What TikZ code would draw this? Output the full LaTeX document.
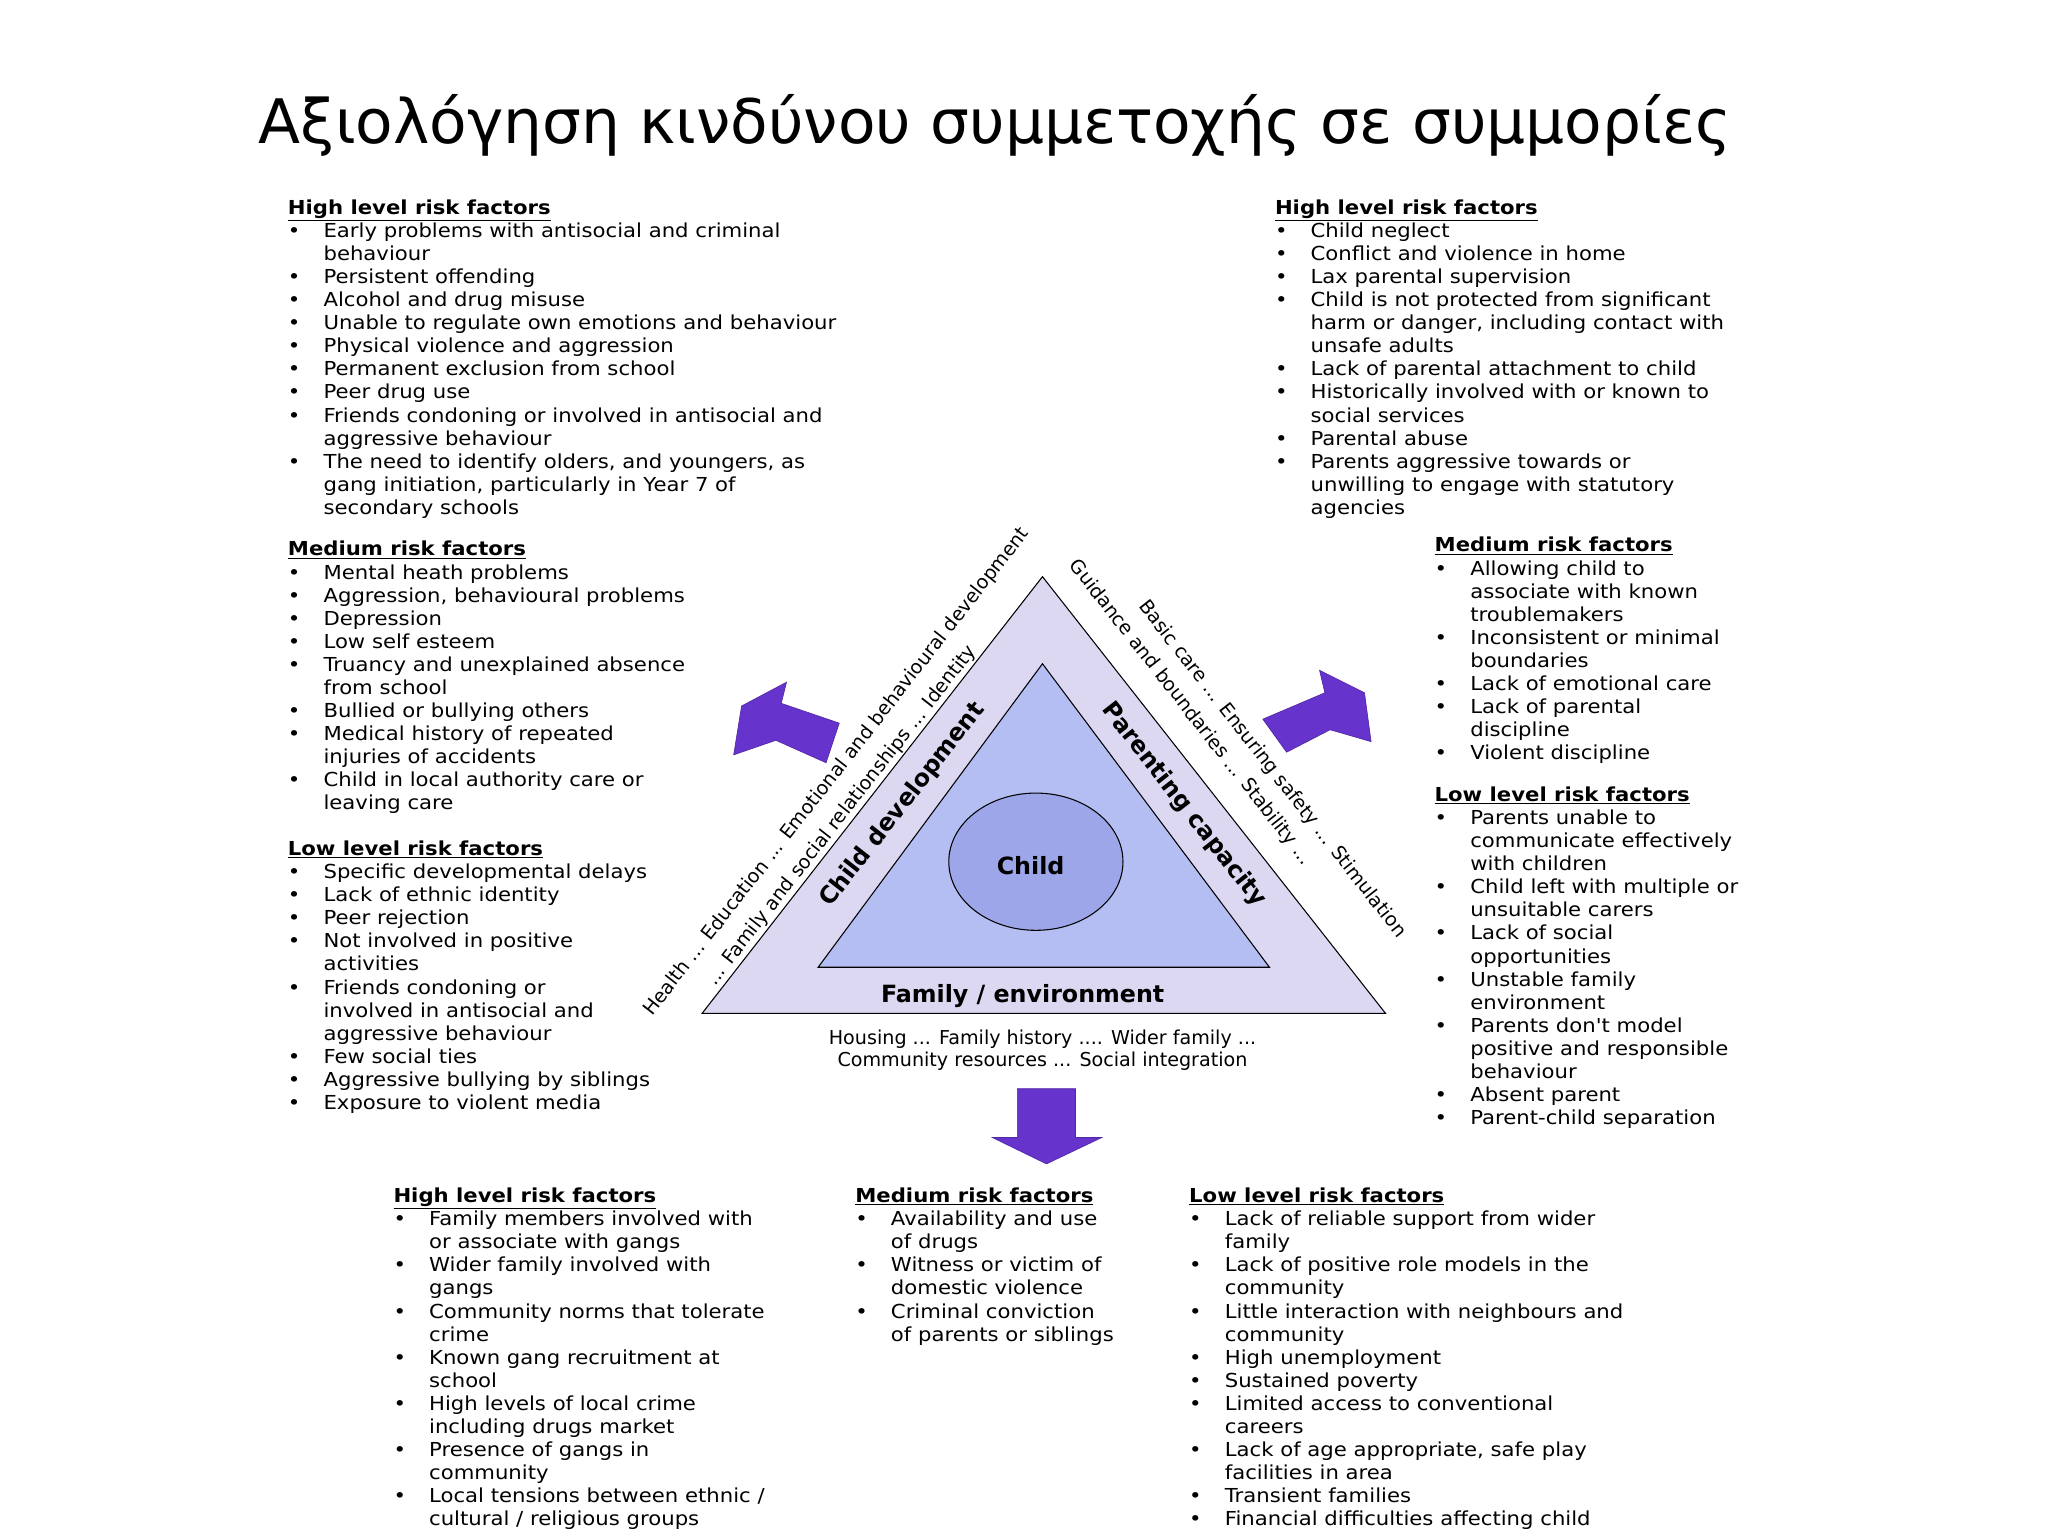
\documentclass[tikz,border=0pt]{standalone}
\usepackage{fontspec}
\setmainfont{DejaVu Sans}
\newfontfamily\listfont[FakeStretch=1.1]{DejaVu Sans}
\usetikzlibrary{calc}
\definecolor{outerc}{HTML}{DDD8F2}
\definecolor{innerc}{HTML}{B4BEF2}
\definecolor{childc}{HTML}{9EA6EA}
\definecolor{arrowc}{HTML}{6633CC}
\newcommand{\bi}{\makebox[27pt][l]{\textbullet}}
\newcommand{\ct}{\hspace*{27pt}}
\newcommand{\hd}[1]{\textbf{\underline{#1}}}
\begin{document}
\begin{tikzpicture}[x=1pt,y=-1pt,
  list/.style={anchor=north west,inner sep=0pt,align=left,font={\listfont\fontsize{14.6}{17.5}\selectfont}},
  side/.style={inner sep=0pt,font={\fontsize{14.5}{17}\selectfont}},
  big/.style={inner sep=0pt,font={\fontsize{18}{20}\selectfont\bfseries}},
  arr/.style={fill=arrowc,draw=arrowc!80!black,line width=0.5pt}]
\useasboundingbox (0,0) rectangle (1552,1164);
\fill[white] (0,0) rectangle (1552,1164);
\node[inner sep=0pt,font=\fontsize{46.5}{52}\selectfont] (title) at (754,95) {Αξιολόγηση κινδύνου συμμετοχής σε συμμορίες};

% triangle
\draw[fill=outerc,line width=0.8pt] (790,437) coordinate (oa) -- (532,768) coordinate (ol) -- (1050,768) coordinate (or) -- cycle;
\draw[fill=innerc,line width=0.8pt] (790,503) coordinate (ia) -- (620,733) coordinate (il) -- (962,733) coordinate (ir) -- cycle;
\draw[fill=childc,line width=0.8pt] (785,653) ellipse [x radius=66,y radius=52];
\node[big] (child) at (781,656) {Child};
\node[big,rotate=52] (cd) at (684,610) {Child development};
\node[big,rotate=-52] (pc) at (897,610) {Parenting capacity};
\node[big] (fe) at (775,755) {Family / environment};
\node[side,rotate=52] (l1) at (634,585) {Health ... Education ... Emotional and behavioural development};
\node[side,rotate=52] (l2) at (638,618) {... Family and social relationships ... Identity};
\node[side,rotate=-52] (r2) at (902,540) {Guidance and boundaries ... Stability ...};
\node[side,rotate=-52] (r1) at (964,583) {Basic care ... Ensuring safety ... Stimulation};
\node[side,align=center] (hous) at (790,796) {Housing ... Family history .... Wider family ...\\Community resources ... Social integration};

% arrows
\draw[arr] (636,548) -- (626,578) -- (588,561) -- (556,572) -- (562,535) -- (596,517) -- (592,533) -- cycle;
\draw[arr] (957,545) -- (975,570) -- (1008,553) -- (1039,562) -- (1034,525) -- (1000,508) -- (1004,525) -- cycle;
\draw[arr] (771,825) -- (815,825) -- (815,862) -- (835,862) -- (793,882) -- (752,862) -- (771,862) -- cycle;

% left column
\node[list] (lh) at (218,151) {\hd{High level risk factors}\\
\bi Early problems with antisocial and criminal\\ \ct behaviour\\
\bi Persistent offending\\
\bi Alcohol and drug misuse\\
\bi Unable to regulate own emotions and behaviour\\
\bi Physical violence and aggression\\
\bi Permanent exclusion from school\\
\bi Peer drug use\\
\bi Friends condoning or involved in antisocial and\\ \ct aggressive behaviour\\
\bi The need to identify olders, and youngers, as\\ \ct gang initiation, particularly in Year 7 of\\ \ct secondary schools};
\node[list] (lm) at (218,410) {\hd{Medium risk factors}\\
\bi Mental heath problems\\
\bi Aggression, behavioural problems\\
\bi Depression\\
\bi Low self esteem\\
\bi Truancy and unexplained absence\\ \ct from school\\
\bi Bullied or bullying others\\
\bi Medical history of repeated\\ \ct injuries of accidents\\
\bi Child in local authority care or\\ \ct leaving care};
\node[list] (ll) at (218,637) {\hd{Low level risk factors}\\
\bi Specific developmental delays\\
\bi Lack of ethnic identity\\
\bi Peer rejection\\
\bi Not involved in positive\\ \ct activities\\
\bi Friends condoning or\\ \ct involved in antisocial and\\ \ct aggressive behaviour\\
\bi Few social ties\\
\bi Aggressive bullying by siblings\\
\bi Exposure to violent media};

% right column
\node[list] (rh) at (966,151) {\hd{High level risk factors}\\
\bi Child neglect\\
\bi Conflict and violence in home\\
\bi Lax parental supervision\\
\bi Child is not protected from significant\\ \ct harm or danger, including contact with\\ \ct unsafe adults\\
\bi Lack of parental attachment to child\\
\bi Historically involved with or known to\\ \ct social services\\
\bi Parental abuse\\
\bi Parents aggressive towards or\\ \ct unwilling to engage with statutory\\ \ct agencies};
\node[list] (rm) at (1087,407) {\hd{Medium risk factors}\\
\bi Allowing child to\\ \ct associate with known\\ \ct troublemakers\\
\bi Inconsistent or minimal\\ \ct boundaries\\
\bi Lack of emotional care\\
\bi Lack of parental\\ \ct discipline\\
\bi Violent discipline};
\node[list] (rl) at (1087,596) {\hd{Low level risk factors}\\
\bi Parents unable to\\ \ct communicate effectively\\ \ct with children\\
\bi Child left with multiple or\\ \ct unsuitable carers\\
\bi Lack of social\\ \ct opportunities\\
\bi Unstable family\\ \ct environment\\
\bi Parents don't model\\ \ct positive and responsible\\ \ct behaviour\\
\bi Absent parent\\
\bi Parent-child separation};

% bottom
\node[list] (bh) at (298,900) {\hd{High level risk factors}\\
\bi Family members involved with\\ \ct or associate with gangs\\
\bi Wider family involved with\\ \ct gangs\\
\bi Community norms that tolerate\\ \ct crime\\
\bi Known gang recruitment at\\ \ct school\\
\bi High levels of local crime\\ \ct including drugs market\\
\bi Presence of gangs in\\ \ct community\\
\bi Local tensions between ethnic /\\ \ct cultural / religious groups};
\node[list] (bm) at (648,900) {\hd{Medium risk factors}\\
\bi Availability and use\\ \ct of drugs\\
\bi Witness or victim of\\ \ct domestic violence\\
\bi Criminal conviction\\ \ct of parents or siblings};
\node[list] (bl) at (901,900) {\hd{Low level risk factors}\\
\bi Lack of reliable support from wider\\ \ct family\\
\bi Lack of positive role models in the\\ \ct community\\
\bi Little interaction with neighbours and\\ \ct community\\
\bi High unemployment\\
\bi Sustained poverty\\
\bi Limited access to conventional\\ \ct careers\\
\bi Lack of age appropriate, safe play\\ \ct facilities in area\\
\bi Transient families\\
\bi Financial difficulties affecting child};
\end{tikzpicture}
\end{document}
